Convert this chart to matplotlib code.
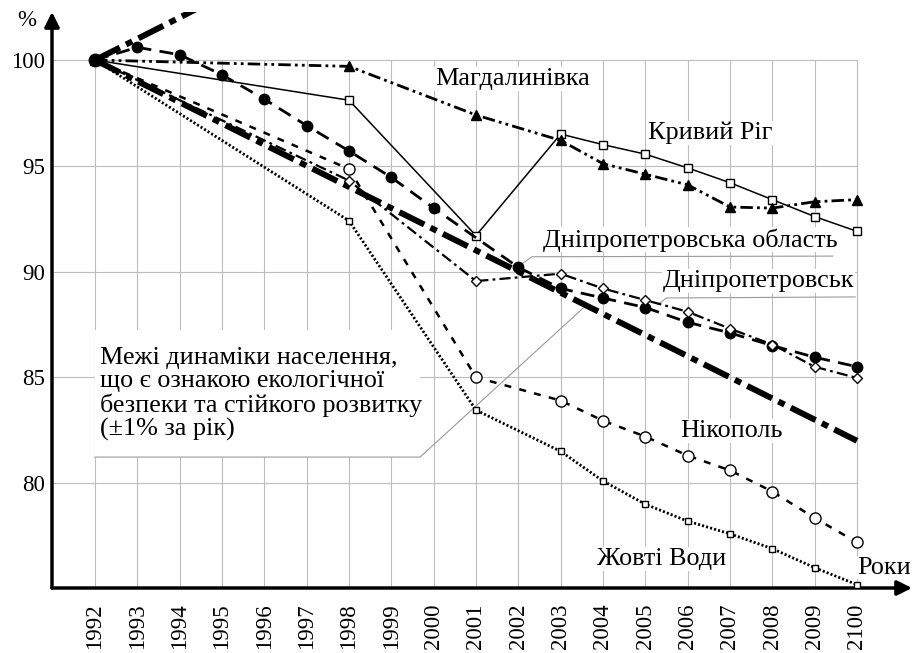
import matplotlib
matplotlib.use("Agg")
import matplotlib.pyplot as plt
from matplotlib.patches import Rectangle

plt.rcParams['font.family'] = ['Liberation Serif', 'DejaVu Serif']
plt.rcParams['lines.scale_dashes'] = False

# x categories
years = ['1992', '1993', '1994', '1995', '1996', '1997', '1998', '1999', '2000',
         '2001', '2002', '2003', '2004', '2005', '2006', '2007', '2008', '2009', '2100']
yticks = [80, 85, 90, 95, 100]

# series (years with a value, values in % of 1992)
sparse_years = ['1992', '1998', '2001', '2003', '2004', '2005', '2006', '2007', '2008', '2009', '2100']
kryvyi_rih = [100, 98.1, 91.7, 96.5, 96.0, 95.55, 94.9, 94.2, 93.4, 92.6, 91.9]
magdalynivka = [100, 99.7, 97.4, 96.2, 95.1, 94.6, 94.1, 93.05, 93.0, 93.3, 93.4]
dnipro_city = [100, 94.3, 89.55, 89.9, 89.2, 88.65, 88.1, 87.3, 86.55, 85.5, 84.97]
nikopol = [100, 94.85, 85.0, 83.9, 82.95, 82.2, 81.3, 80.6, 79.6, 78.35, 77.2]
zhovti_vody = [100, 92.4, 83.45, 81.5, 80.1, 79.0, 78.2, 77.6, 76.9, 76.0, 75.2]

oblast_years = ['1992', '1993', '1994', '1995', '1996', '1997', '1998', '1999', '2000',
                '2002', '2003', '2004', '2005', '2006', '2007', '2008', '2009', '2100']
oblast = [100, 100.6, 100.25, 99.3, 98.15, 96.9, 95.7, 94.45, 93.0,
          90.2, 89.2, 88.75, 88.3, 87.6, 87.1, 86.5, 85.95, 85.5]

# +-1% per year limits
upper_years = ['1992', '1993', '1994', '1995']
upper_limit = [100, 101, 102.01, 103.03]
lower_limit = [100, 99, 98, 97, 96, 95, 94, 93, 92, 91, 90,
               89, 88, 87, 86, 85, 84, 83, 82]


def xs(labels):
    return [years.index(y) for y in labels]


fig = plt.figure(figsize=(9.14, 6.53), dpi=100)
ax = fig.add_axes([52 / 914, 65 / 653, 860 / 914, 576 / 653])
ax.set_xlim(-1.016, 19.30)
ax.set_ylim(75.04, 102.27)
for s in ax.spines.values():
    s.set_visible(False)

# grid
grid_c = '#bdbdbd'
ax.hlines(yticks, -1.016, len(years) - 1, color=grid_c, lw=0.8, zorder=1)
ax.vlines(range(len(years)), 75.04, 100, color=grid_c, lw=0.8, zorder=1)

# axes with arrows
ax.annotate('', xy=(0, 1), xytext=(0, 0), xycoords='axes fraction',
            arrowprops=dict(arrowstyle='-|>', lw=2.5, color='k', mutation_scale=22,
                            shrinkA=0, shrinkB=0))
ax.annotate('', xy=(1, 0), xytext=(0, 0), xycoords='axes fraction',
            arrowprops=dict(arrowstyle='-|>', lw=2.5, color='k', mutation_scale=22,
                            shrinkA=0, shrinkB=0))

ax.set_xticks(range(len(years)))
ax.set_xticklabels(years, rotation=90, fontsize=16.5)
ax.set_yticks(yticks)
ax.set_yticklabels([str(v) for v in yticks], fontsize=16.5)
ax.tick_params(axis='x', length=0, pad=11)
ax.tick_params(axis='y', length=0, pad=5)

fs = 18.8

# note box
ax.add_patch(Rectangle((0, 81.23), 7.68, 6.0, facecolor='white', edgecolor='none', zorder=2))
ax.plot([0, 7.68, 11.53], [81.23, 81.23, 88.27], color='#9a9a9a', lw=0.8, zorder=2)
ax.text(0.12, 84.2, 'Межі динаміки населення,\nщо є ознакою екологічної\n'
        'безпеки та стійкого розвитку\n(±1% за рік)',
        fontsize=fs, va='center', ha='left', linespacing=1.06, zorder=3)

# limit lines
ax.plot(xs(upper_years), upper_limit, color='k', lw=4.3, dashes=(20, 5, 5, 5), zorder=4)
ax.plot(range(len(years)), lower_limit, color='k', lw=4.3, dashes=(20, 5, 5, 5), zorder=4)

# series
ax.plot(xs(sparse_years), kryvyi_rih, color='k', lw=1.1, marker='s', ms=6,
        mfc='white', mec='k', mew=1, zorder=5)
ax.plot(xs(sparse_years), magdalynivka, color='k', lw=2, dashes=(9, 3, 2, 3, 2, 3),
        marker='^', ms=7, mfc='k', mec='k', zorder=5)
ax.plot(xs(oblast_years), oblast, color='k', lw=2, dashes=(10, 6),
        marker='o', ms=7.5, mfc='k', mec='k', zorder=5)
ax.plot(xs(sparse_years), dnipro_city, color='k', lw=1.6, dashes=(8, 3, 2, 3),
        marker='D', ms=5.5, mfc='white', mec='k', mew=1, zorder=6)
ax.plot(xs(sparse_years), nikopol, color='k', lw=1.8, dashes=(5, 6),
        marker='o', ms=8, mfc='white', mec='k', mew=1, zorder=5)
ax.plot(xs(sparse_years), zhovti_vody, color='k', lw=2, dashes=(1.5, 1.5),
        marker='s', ms=4.5, mfc='white', mec='k', mew=1, zorder=5)
ax.plot(xs(['1992']), lower_limit[:1], 'o', color='k', ms=9, zorder=7)

# labels
bb = dict(facecolor='white', edgecolor='none', pad=0.5)
ax.text(8.03, 99.1, 'Магдалинівка', fontsize=fs, va='center', bbox=bb, zorder=3)
ax.text(13.06, 96.55, 'Кривий Ріг', fontsize=fs, va='center', bbox=bb, zorder=3)
ax.text(10.58, 91.5, 'Дніпропетровська область', fontsize=fs, va='center', bbox=bb, zorder=3)
ax.text(13.42, 89.55, 'Дніпропетровськ', fontsize=fs, va='center', bbox=bb, zorder=3)
ax.text(13.82, 82.46, 'Нікополь', fontsize=fs, va='center', bbox=bb, zorder=3)
ax.text(11.86, 76.41, 'Жовті Води', fontsize=fs, va='center', bbox=bb, zorder=3)
ax.text(18.0, 76.0, 'Роки', fontsize=fs, va='center', bbox=bb, zorder=3)
ax.text(-1.84, 101.85, '%', fontsize=16.5, va='center')

# leader lines
ax.plot([17.43, 10.32, 10.04], [90.73, 90.7, 90.3], color='#9a9a9a', lw=0.8, zorder=2)
ax.plot([17.96, 13.5, 13.3], [88.8, 88.75, 88.45], color='#9a9a9a', lw=0.8, zorder=2)

fig.savefig('out.png', dpi=100)
